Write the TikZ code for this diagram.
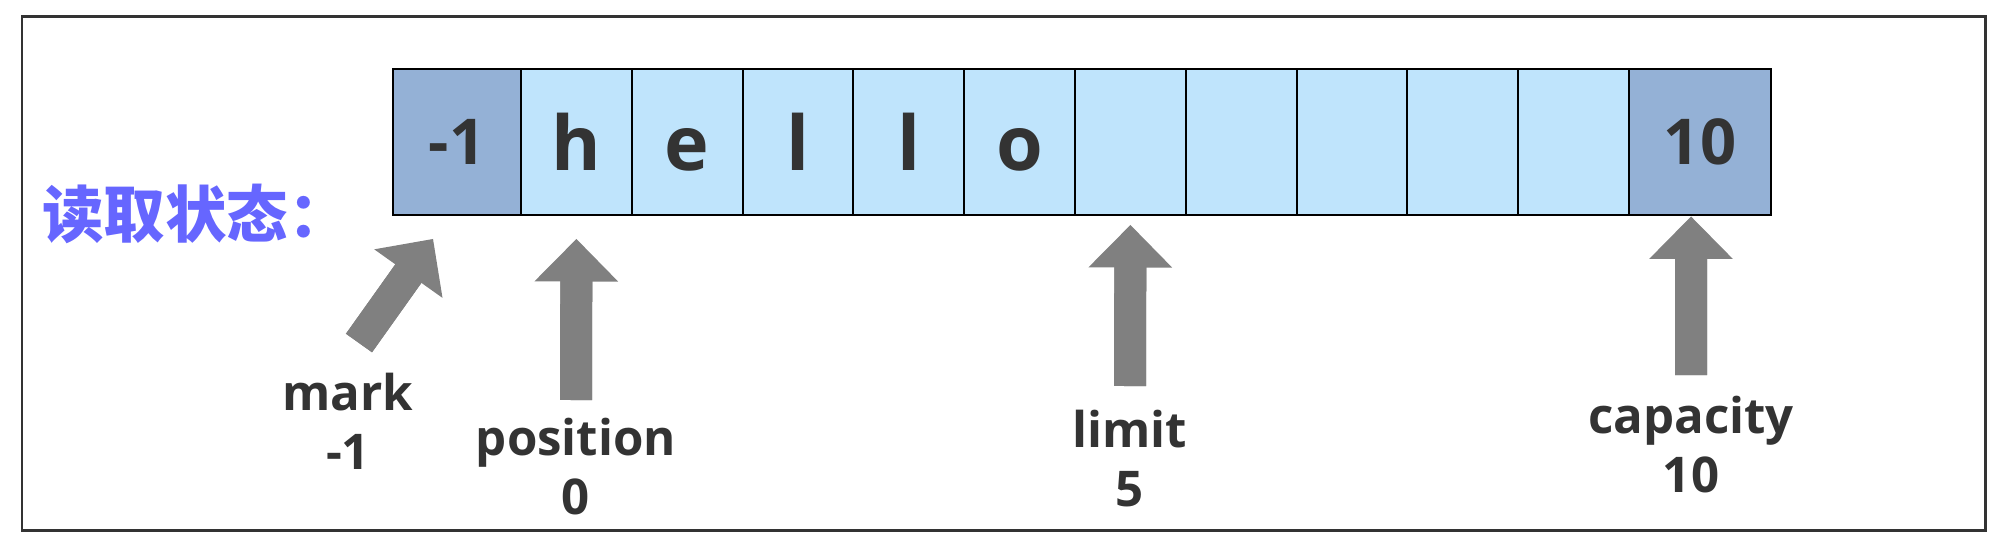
\documentclass[tikz,border=0pt]{standalone}
\usepackage{fontspec}
\setmainfont{Open Sans}
\newfontfamily\cjk{Noto Sans CJK SC}
\usetikzlibrary{arrows.meta, positioning, calc}
\definecolor{cellblue}{HTML}{BFE4FC}
\definecolor{celldark}{HTML}{94B1D6}
\definecolor{titleblue}{HTML}{6666FF}
\definecolor{arrowgray}{HTML}{808080}
\definecolor{inkgray}{HTML}{333333}

\begin{document}
\begin{tikzpicture}[x=0.02cm, y=-0.02cm]
        \tikzstyle{cell}=[draw=black, line width=0.04cm, fill=cellblue, minimum width=2.216cm, minimum height=2.94cm, inner sep=0pt, text=inkgray, font=\fontsize{43}{50}\selectfont\bfseries, text height=1.12cm, text depth=0pt];
        \tikzstyle{endcell}=[cell, fill=celldark, font=\fontsize{36}{42}\selectfont\bfseries, text height=0.88cm];
        \tikzstyle{lbl}=[text=inkgray, font=\fontsize{28}{33.6}\selectfont\bfseries, align=center, inner sep=0pt, anchor=north];
        \tikzstyle{fatshaft}=[draw=arrowgray, line width=0.64cm, shorten >=0.4cm];
        \tikzstyle{fatarrow}=[draw=arrowgray, line width=0.64cm, -{Triangle[line width=0.03cm, length=0.85cm, width=1.67cm, fill=arrowgray]}];

        \useasboundingbox (0,0) rectangle (2000,545);
        \draw[line width=0.06cm, draw=inkgray] (22,16) rectangle (1985,530);

        \node[text=titleblue, font=\cjk\fontsize{35}{40}\selectfont\bfseries, anchor=west, inner sep=0pt] (title) at (42,214) {读取状态：};

        \node[endcell, minimum width=2.56cm] (c0) at (457,142) {-1};
        \foreach \ch [count=\i] in {h,e,l,l,o,{},{},{},{},{}}
                \node[cell] (c\i) at (521+\i*110.8-55.4,142) {\ch};
        \node[endcell, minimum width=2.84cm] (c11) at (1700,142) {10};

        \node[lbl] (marklbl) at (348,373) {mark\\-1};
        \node[lbl] (poslbl) at (576,418) {position\\0};
        \node[lbl] (limlbl) at (1130,410) {limit\\5};
        \node[lbl] (caplbl) at (1691,396) {capacity\\10};

        \coordinate (markTail) at ([xshift=0.22cm, yshift=0.6cm]marklbl.north);
        \coordinate (markTip) at ([xshift=-0.48cm, yshift=-0.45cm]c0.south);
        \coordinate (posTail) at ([yshift=0.36cm]poslbl.north);
        \coordinate (posTip) at ([yshift=-0.45cm]c1.south);
        \coordinate (limTail) at ([yshift=0.48cm]limlbl.north);
        \coordinate (limTip) at ([yshift=-0.17cm]c6.south);
        \coordinate (capTail) at ([yshift=0.42cm]caplbl.north);
        \coordinate (capTip) at ([xshift=-0.18cm]c11.south);

        \foreach \a in {mark, pos, lim, cap}
        {
                \draw (\a Tail) edge[fatshaft] (\a Tip);
                \draw (\a Tail) edge[fatarrow] (\a Tip);
        }
\end{tikzpicture}
\end{document}
